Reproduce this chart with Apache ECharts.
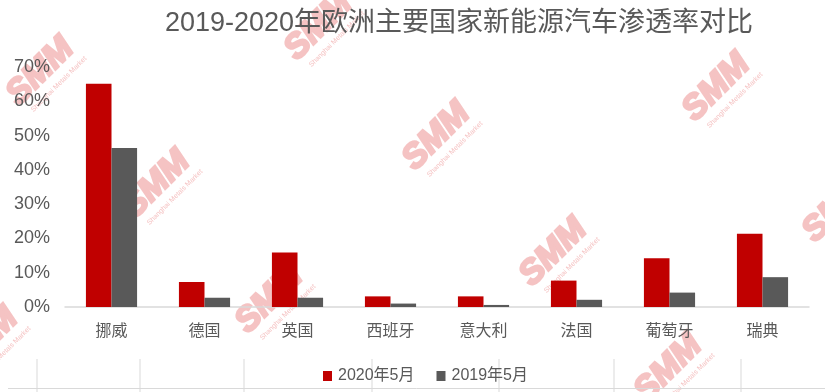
<!DOCTYPE html>
<html>
<head>
<meta charset="utf-8">
<script src="https://cdn.jsdelivr.net/npm/echarts@6/dist/echarts.min.js"></script>
<style>
html,body{margin:0;padding:0;background:#fff;}
#chart{width:825px;height:392px;}
</style>
</head>
<body>
<div id="chart"></div>
<script>
var titleText = '2019-2020年欧洲主要国家新能源汽车渗透率对比';
var categories = ['挪威', '德国', '英国', '西班牙', '意大利', '法国', '葡萄牙', '瑞典'];
var seriesNames = ['2020年5月', '2019年5月'];
var values2020 = [0.651, 0.073, 0.159, 0.031, 0.031, 0.077, 0.142, 0.214];
var values2019 = [0.464, 0.027, 0.027, 0.010, 0.006, 0.021, 0.042, 0.087];

var font = '"Liberation Sans", "Noto Sans CJK SC", sans-serif';
var textColor = '#595959';

// watermark placement (decorative only)
var wmCenters = [[44,75],[160,188],[273,303],[322,30],[440,140],[557,256],[672,372],[720,91],[840,212],[-12,345]];
var graphics = [];
wmCenters.forEach(function (c) {
  graphics.push({
    type: 'group', x: c[0], y: c[1], rotation: Math.PI / 4, z: 0, silent: true,
    children: [
      { type: 'text', x: 0, y: -5, style: { text: 'SMM', font: 'italic bold 34px "Liberation Sans", sans-serif', fill: '#f5c3c3', stroke: '#f5c3c3', lineWidth: 2.5, textAlign: 'center', textVerticalAlign: 'middle' } },
      { type: 'text', x: 4, y: 17, style: { text: 'Shanghai Metals Market', font: '7px "Liberation Sans", sans-serif', fill: '#f5c3c3', textAlign: 'center', textVerticalAlign: 'middle' } }
    ]
  });
});
// spreadsheet grid lines under the chart (decorative)
[37, 140, 244, 372, 499, 614, 741].forEach(function (x) {
  graphics.push({ type: 'line', z: 1, silent: true, shape: { x1: x, y1: 359, x2: x, y2: 392 }, style: { stroke: '#d9d9d9', lineWidth: 1 } });
});
graphics.push({ type: 'line', z: 1, silent: true, shape: { x1: 8, y1: 388.5, x2: 825, y2: 388.5 }, style: { stroke: '#d9d9d9', lineWidth: 1 } });

var chart = echarts.init(document.getElementById('chart'));
chart.setOption({
  backgroundColor: '#ffffff',
  animation: false,
  title: {
    text: titleText,
    left: 160,
    top: 5,
    textStyle: { fontFamily: font, fontSize: 27, fontWeight: 'normal', color: textColor }
  },
  graphic: graphics,
  legend: {
    data: seriesNames,
    left: 318,
    top: 363,
    icon: 'rect',
    itemWidth: 9,
    itemHeight: 10,
    itemGap: 22,
    textStyle: { fontFamily: font, fontSize: 16, color: textColor, padding: [0, 0, 0, 1] }
  },
  grid: { left: 65, right: 16, top: 67, bottom: 85, containLabel: false },
  xAxis: {
    type: 'category',
    data: categories,
    axisLine: { lineStyle: { color: '#d9d9d9', width: 1.5 } },
    axisTick: { show: false },
    axisLabel: { margin: 15, fontFamily: '"Noto Sans CJK SC", sans-serif', fontSize: 16, color: textColor }
  },
  yAxis: {
    type: 'value',
    min: 0,
    max: 0.7,
    interval: 0.1,
    axisLine: { show: false },
    axisTick: { show: false },
    splitLine: { show: false },
    axisLabel: {
      margin: 15,
      fontFamily: font,
      fontSize: 18,
      color: textColor,
      formatter: function (v) { return Math.round(v * 100) + '%'; }
    }
  },
  series: [
    { name: seriesNames[0], type: 'bar', data: values2020, barWidth: '27.5%', barGap: '0%', itemStyle: { color: '#c00000' }, z: 3 },
    { name: seriesNames[1], type: 'bar', data: values2019, barWidth: '27.5%', barGap: '0%', itemStyle: { color: '#595959' }, z: 3 }
  ]
});
</script>
</body>
</html>
